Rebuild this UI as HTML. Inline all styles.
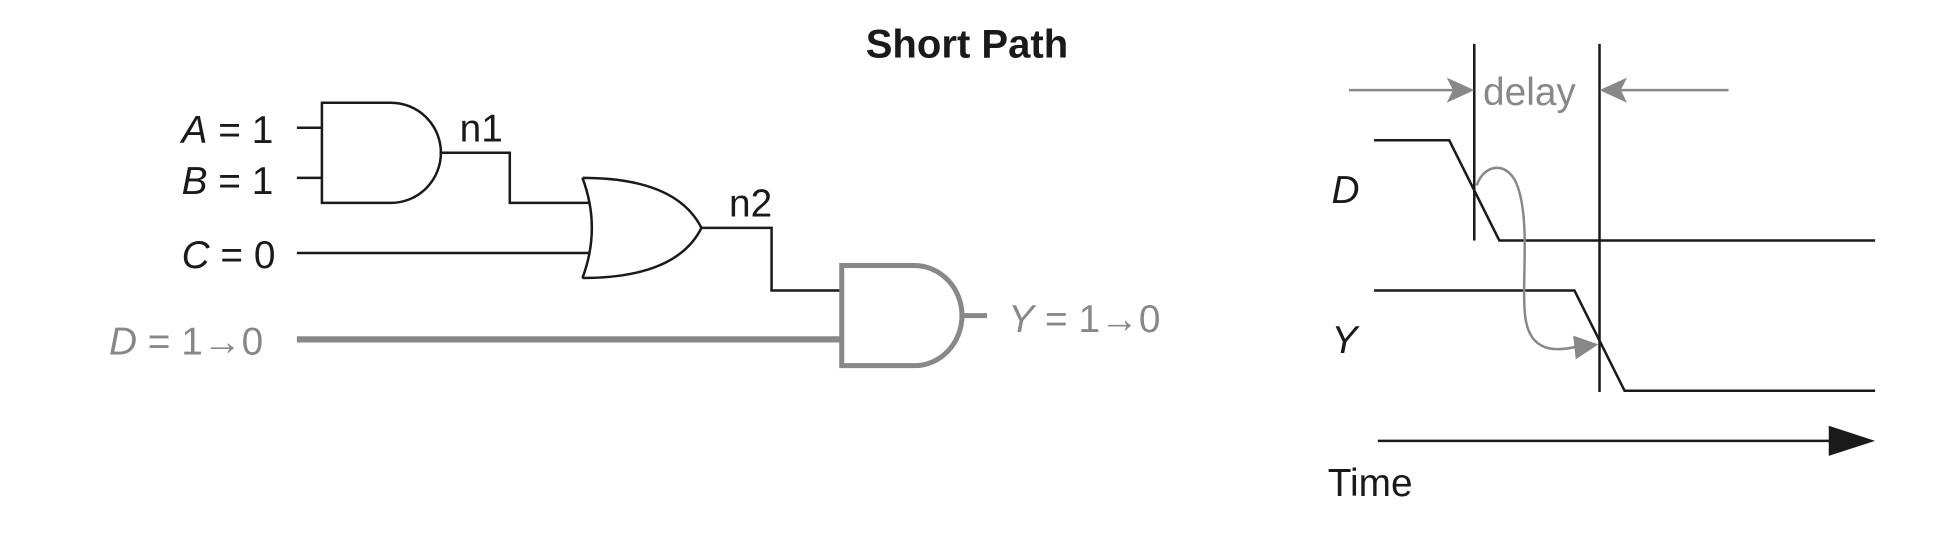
<!DOCTYPE html>
<html><head><style>html,body{margin:0;padding:0;background:#fff}svg{display:block}</style></head>
<body>
<svg width="1954" height="536" viewBox="0 0 1560 428" preserveAspectRatio="none" xmlns="http://www.w3.org/2000/svg" font-family="Liberation Sans, sans-serif">
<text x="772" y="46" font-size="32" font-weight="bold" text-anchor="middle" fill="#1a1a1a">Short Path</text>
<g fill="none" stroke="#1a1a1a" stroke-width="2">
<path d="M257,82 H312 A40,40 0 0 1 312,162 H257 Z"/>
<path d="M237,102 H257 M237,142 H257"/>
<path d="M351,122 H407 V162 H470"/>
<path d="M465,142 Q480,182 465,222 M465,142 Q540,142 560,182 Q540,222 465,222"/>
<path d="M237,202 H470"/>
<path d="M560,182 H616 V232 H672"/>
<path d="M1177,35 V192 M1277,35 V313"/>
<path d="M1097,112 H1157 L1197,192 H1497"/>
<path d="M1097,232 H1257 L1297,312 H1497"/>
<path d="M1100,352 H1462"/>
</g>
<path d="M1460,340 L1497,352 L1460,364 Z" fill="#1a1a1a"/>
<g fill="none" stroke="#888" stroke-width="4">
<path d="M672,212 H730 A38,40 0 0 1 730,292 H672 Z"/>
<path d="M768,252 H788"/>
<path d="M237,271 H672" stroke-width="5"/>
</g>
<g stroke="#888" stroke-width="2" fill="none">
<path d="M1077,72 H1160 M1380,72 H1294"/>
<path d="M1179,148 C1185,130 1205,128 1212,150 C1222,180 1214,230 1218,255 C1222,280 1240,282 1262,276"/>
</g>
<path d="M1177,72 L1155,62 L1160,72 L1155,82 Z M1277,72 L1299,62 L1294,72 L1299,82 Z M1276,275 L1256,268 L1258,287 Z" fill="#888"/>
<text x="1184" y="84" font-size="31" fill="#888">delay</text>
<g font-size="31" fill="#1a1a1a">
<text x="145" y="114"><tspan font-style="italic">A</tspan> = 1</text>
<text x="145" y="155"><tspan font-style="italic">B</tspan> = 1</text>
<text x="145" y="214"><tspan font-style="italic">C</tspan> = 0</text>
<text x="367" y="113">n1</text>
<text x="582" y="173">n2</text>
<text x="1063" y="162" font-style="italic">D</text>
<text x="1063" y="282" font-style="italic">Y</text>
<text x="1060" y="396">Time</text>
</g>
<g font-size="31" fill="#888">
<text x="87" y="283"><tspan font-style="italic">D</tspan> = 1→0</text>
<text x="805" y="265"><tspan font-style="italic">Y</tspan> = 1→0</text>
</g>
</svg>
</body></html>
